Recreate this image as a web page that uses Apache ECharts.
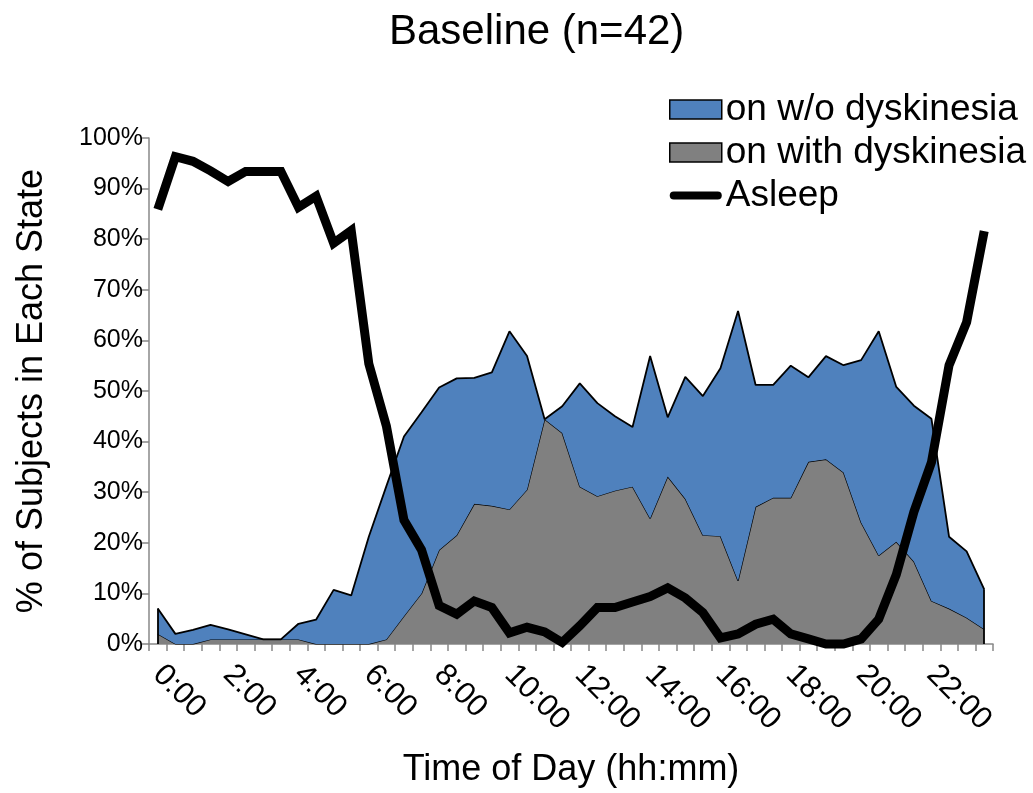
<!DOCTYPE html>
<html>
<head>
<meta charset="utf-8">
<script src="https://cdn.jsdelivr.net/npm/echarts@6/dist/echarts.min.js"></script>
<style>html,body{margin:0;padding:0;background:#fff}#c{width:1033px;height:793px}</style>
</head>
<body>
<div id="c"></div>
<script>
// half-hour categories 0:00 .. 23:30
var categories = ["0:00","0:30","1:00","1:30","2:00","2:30","3:00","3:30","4:00","4:30","5:00","5:30",
  "6:00","6:30","7:00","7:30","8:00","8:30","9:00","9:30","10:00","10:30","11:00","11:30",
  "12:00","12:30","13:00","13:30","14:00","14:30","15:00","15:30","16:00","16:30","17:00","17:30",
  "18:00","18:30","19:00","19:30","20:00","20:30","21:00","21:30","22:00","22:30","23:00","23:30"];

// % of subjects "on with dyskinesia"
var onWithDysk = [2.0,0,0,0.9,0.9,0.9,0.9,0.9,0.9,0,0,0,
  0,0.9,5.5,10.0,18.6,21.5,27.7,27.3,26.6,30.5,44.4,41.7,
  31.1,29.2,30.3,31.1,24.8,33.1,28.7,21.5,21.3,12.5,27.1,28.9,
  28.9,36.0,36.5,33.9,24.0,17.5,20.2,16.3,8.5,7.0,5.2,2.9];

// % of subjects "on w/o dyskinesia" (stacked on top of the above)
var onWithoutDysk = [5.0,2.0,2.8,2.9,2.0,1.0,0,0,3.1,4.8,10.7,9.6,
  21.2,30.3,35.5,35.8,32.1,31.0,24.9,26.4,35.2,26.4,0,5.3,
  20.4,18.4,14.7,11.8,32.1,11.7,24.1,27.5,33.2,53.3,24.1,22.3,
  26.1,16.7,20.4,21.2,32.1,44.3,30.6,30.8,36.0,14.2,13.1,7.9];

// % of subjects asleep
var asleep = [85.9,96.3,95.4,93.5,91.4,93.4,93.4,93.4,86.3,88.5,79.2,81.7,
  55.4,43.1,24.5,18.6,7.6,5.9,8.5,7.2,2.2,3.3,2.4,0.3,
  3.6,7.2,7.2,8.3,9.4,11.1,9.1,6.2,1.2,2.0,3.9,4.9,
  2.0,1.0,0,0,1.0,4.9,13.7,26.1,35.9,55.1,63.6,81.6];

var yTicks = [0,10,20,30,40,50,60,70,80,90,100];

var FONT = 'Liberation Sans, Arial, sans-serif';
var axisGray = '#888888';
var lastIdx = categories.length - 1;
var totalFirst = onWithDysk[0] + onWithoutDysk[0];
var totalLast = onWithDysk[lastIdx] + onWithoutDysk[lastIdx];

var chart = echarts.init(document.getElementById('c'));
chart.setOption({
  animation: false,
  backgroundColor: '#fff',
  textStyle: {fontFamily: FONT, color: '#000'},
  title: {
    text: 'Baseline (n=42)', left: 384, top: 6,
    textStyle: {fontFamily: FONT, fontSize: 42, fontWeight: 'normal', color: '#000'}
  },
  legend: {
    orient: 'vertical', left: 664, top: 86,
    itemWidth: 52, itemHeight: 19, itemGap: 6,
    symbolKeepAspect: true,
    textStyle: {fontFamily: FONT, fontSize: 37, color: '#000', padding: [0,0,0,-1]},
    data: [
      {name: 'on w/o dyskinesia', icon: 'rect', itemStyle: {color: '#4F81BD', borderColor: '#000', borderWidth: 1.5}},
      {name: 'on with dyskinesia', icon: 'rect', itemStyle: {color: '#808080', borderColor: '#000', borderWidth: 1.5}},
      {name: 'Asleep', icon: 'path://M2,0 L24,0 Q26,0 26,2 Q26,4 24,4 L2,4 Q0,4 0,2 Q0,0 2,0 Z', itemStyle: {color: '#000', borderWidth: 0}}
    ]
  },
  grid: {left: 149, right: 40, top: 138, bottom: 144},
  xAxis: {
    type: 'category', data: categories, boundaryGap: true,
    name: 'Time of Day (hh:mm)', nameLocation: 'middle', nameGap: 108,
    nameTextStyle: {fontFamily: FONT, fontSize: 36, color: '#000'},
    axisLine: {lineStyle: {color: axisGray, width: 1.5}},
    axisTick: {show: true, interval: 0, length: 7, lineStyle: {color: axisGray, width: 1.5}},
    axisLabel: {interval: 3, rotate: -45, margin: 26, fontFamily: FONT, fontSize: 31, color: '#000'},
    splitLine: {show: false}
  },
  yAxis: {
    type: 'value', min: yTicks[0], max: yTicks[yTicks.length-1], interval: 10,
    name: '% of Subjects in Each State', nameLocation: 'middle', nameGap: 99, nameRotate: 90,
    nameTextStyle: {fontFamily: FONT, fontSize: 36, color: '#000'},
    axisLine: {show: true, lineStyle: {color: axisGray, width: 1.5}},
    axisTick: {show: true, length: 7, lineStyle: {color: axisGray, width: 1.5}},
    axisLabel: {formatter: '{value}%', margin: 6, fontFamily: FONT, fontSize: 25, color: '#000'},
    splitLine: {show: false}
  },
  series: [
    {
      name: 'on with dyskinesia', type: 'line', stack: 'on', data: onWithDysk,
      symbol: 'none', showSymbol: false,
      lineStyle: {color: '#000', width: 1.3},
      itemStyle: {color: '#808080'},
      areaStyle: {color: '#808080', opacity: 1},
      z: 2
    },
    {
      name: 'on w/o dyskinesia', type: 'line', stack: 'on', data: onWithoutDysk,
      symbol: 'none', showSymbol: false,
      lineStyle: {color: '#000', width: 1.8},
      itemStyle: {color: '#4F81BD'},
      areaStyle: {color: '#4F81BD', opacity: 1},
      markLine: {
        silent: true, symbol: 'none', label: {show: false},
        lineStyle: {color: '#000', width: 1.8, type: 'solid'},
        data: [
          [{coord: [categories[0], 0]}, {coord: [categories[0], totalFirst]}],
          [{coord: [categories[lastIdx], 0]}, {coord: [categories[lastIdx], totalLast]}]
        ]
      },
      z: 3
    },
    {
      name: 'Asleep', type: 'line', data: asleep,
      symbol: 'none', showSymbol: false, clip: false,
      lineStyle: {color: '#000', width: 9, join: 'miter', cap: 'butt'},
      itemStyle: {color: '#000'},
      z: 5
    }
  ]
});
</script>
</body>
</html>
